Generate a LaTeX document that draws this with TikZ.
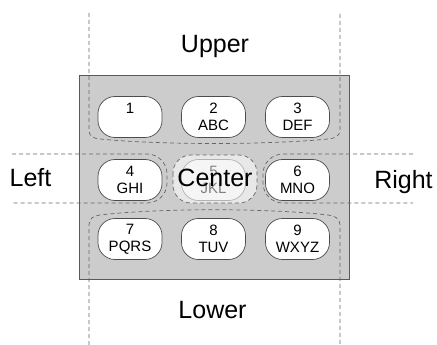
\documentclass[tikz,border=0pt]{standalone}
\usepackage{fontspec}
\setmainfont{Liberation Sans}
\usepackage{tikz}
\usetikzlibrary{positioning}
\tikzstyle{keybox} = [draw=black!70, fill=white, line width=0.7pt, rounded corners=17pt, minimum width=64pt, minimum height=41pt, inner sep=0pt, align=center, font=\fontsize{15}{17}\selectfont]
\tikzstyle{zone} = [draw=black!60, line width=0.7pt, dash pattern=on 4pt off 3pt]
\tikzstyle{zonelabel} = [anchor=base, inner sep=0pt, font=\fontsize{25}{30}\selectfont]

\begin{document}
\begin{tikzpicture}[x=1pt,y=-1pt]
    \useasboundingbox (0,0) rectangle (437,345);

    % Teclado
    \draw[black!65, fill=black!20, line width=0.8pt] (79,75) rectangle (349,279);

    % Zona central
    \draw[zone, fill=black!9, rounded corners=18pt] (173,155) rectangle (257,203);
    \node[keybox, draw=black!30, fill=white, fill opacity=0.6, text opacity=1, text=black!50] (k5) at (213.5,180) {5\\JKL};

    % Teclas
    \foreach \n/\l/\x/\y in {1/{\phantom{A}}/130/117, 2/ABC/213.5/117, 3/DEF/297.5/117,
                             4/GHI/130/180, 6/MNO/297.5/180,
                             7/PQRS/130/239, 8/TUV/213.5/239, 9/WXYZ/297.5/239}
        \node[keybox] (k\n) at (\x,\y) {\n\\\l};

    % Zona superior
    \draw[zone] (89,13) -- (89,130) .. controls (89,136) and (93,138.5) .. (100,139)
        .. controls (160,145) and (268,145) .. (328,139)
        .. controls (335,138.5) and (340,136) .. (340,130) -- (340,13);

    % Zona inferior
    \draw[zone] (89,345) -- (89,225) .. controls (89,219) and (93,215.5) .. (100,215)
        .. controls (160,208) and (268,208) .. (328,215)
        .. controls (335,215.5) and (340,219) .. (340,225) -- (340,345);

    % Zonas laterales
    \draw[zone, rounded corners=20pt] (12,154) -- (167,154) -- (167,203) -- (12,203);
    \draw[zone, rounded corners=20pt] (413,154) -- (263,154) -- (263,203) -- (413,203);

    % Etiquetas
    \node[zonelabel] (upper) at (215,52.5) {Upper};
    \node[zonelabel] (lower) at (212.5,318) {Lower};
    \node[zonelabel] (left) at (30.5,186.5) {Left};
    \node[zonelabel] (right) at (403.5,188.5) {Right};
    \node[zonelabel] (center) at (215,186) {Center};
\end{tikzpicture}
\end{document}
